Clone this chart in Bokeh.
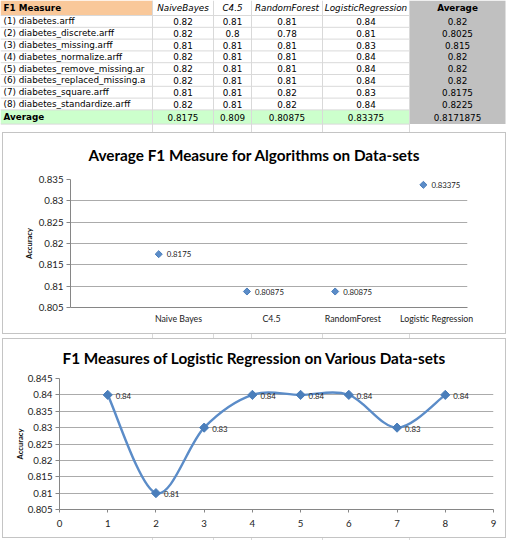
import math
from bokeh.plotting import figure
from bokeh.models import Range1d, FixedTicker
from bokeh.core.properties import value
from bokeh.embed import file_html
from bokeh.resources import INLINE

# ---------------- data ----------------
DATASETS = ["(1) diabetes.arff", "(2) diabetes_discrete.arff", "(3) diabetes_missing.arff",
            "(4) diabetes_normalize.arff", "(5) diabetes_remove_missing.ar",
            "(6) diabetes_replaced_missing.a", "(7) diabetes_square.arff",
            "(8) diabetes_standardize.arff"]
ALGO_HEADERS = ["NaiveBayes", "C4.5", "RandomForest", "LogisticRegression"]
NAIVE_BAYES = [0.82, 0.82, 0.81, 0.82, 0.82, 0.82, 0.81, 0.82]
C45 = [0.81, 0.8, 0.81, 0.81, 0.81, 0.81, 0.81, 0.81]
RANDOM_FOREST = [0.81, 0.78, 0.81, 0.81, 0.81, 0.81, 0.82, 0.82]
LOGISTIC_REGRESSION = [0.84, 0.81, 0.83, 0.84, 0.84, 0.84, 0.83, 0.84]
ROW_AVERAGE = [0.82, 0.8025, 0.815, 0.82, 0.82, 0.82, 0.8175, 0.8225]
COL_AVERAGE = [0.8175, 0.809, 0.80875, 0.83375]
GRAND_AVERAGE = 0.8171875

ALGORITHMS = ["Naive Bayes", "C4.5", "RandomForest", "Logistic Regression"]
AVG_F1 = [0.8175, 0.80875, 0.80875, 0.83375]
Y1_TICKS = [0.805, 0.81, 0.815, 0.82, 0.825, 0.83, 0.835]

DATASET_NO = [1, 2, 3, 4, 5, 6, 7, 8]
LR_F1 = [0.84, 0.81, 0.83, 0.84, 0.84, 0.84, 0.83, 0.84]
Y2_TICKS = [0.805, 0.81, 0.815, 0.82, 0.825, 0.83, 0.835, 0.84, 0.845]
X2_TICKS = [0, 1, 2, 3, 4, 5, 6, 7, 8, 9]

# ---------------- styles ----------------
W = 508
TFONT = "DejaVu Sans"
CFONT = "Lato"
TSIZE = "8.8px"
LINE_BLUE = "#5B8CC8"
MARK_BLUE = "#4A7EBB"
GRID = "#ABABAB"
AXIS = "#868686"
BOX = "#C4C4C4"
CELL_LINE = "#D9D9D9"


def fmt(v):
    return repr(v)


# ---------------- table ----------------
COL_EDGES = [0, 152, 213, 251, 322, 409, 505]
HEADER_H = 15
ROW_H = 11.8
TABLE_H = 130
n = len(DATASETS)
row_tops = [HEADER_H + i * ROW_H for i in range(n + 1)]
avg_top = row_tops[n]
avg_bot = avg_top + 14.2
row_centers = [t + ROW_H / 2 for t in row_tops[:n]]
avg_center = (avg_top + avg_bot) / 2

tbl = figure(width=W, height=TABLE_H, x_range=Range1d(0, W), y_range=Range1d(TABLE_H, 0),
             toolbar_location=None, output_backend="svg", min_border=0,
             x_axis_type=None, y_axis_type=None)
tbl.outline_line_color = None
tbl.background_fill_color = "white"

tbl.quad(left=[COL_EDGES[0]], right=[COL_EDGES[1]], top=[0], bottom=[HEADER_H],
         fill_color="#F9C89A", line_color=None)
tbl.quad(left=[COL_EDGES[0]], right=[COL_EDGES[5]], top=[avg_top], bottom=[avg_bot],
         fill_color="#CCFFCC", line_color=None)
tbl.quad(left=[COL_EDGES[5]], right=[COL_EDGES[6]], top=[0], bottom=[avg_bot],
         fill_color="#C0C0C0", line_color=None)

tbl.text(x=[3] * n, y=row_centers, text=DATASETS, text_font=value(TFONT),
         text_font_size=TSIZE, text_baseline="middle", text_align="left", text_color="black")
tbl.quad(left=[COL_EDGES[1]], right=[COL_EDGES[2]], top=[HEADER_H + 0.5], bottom=[avg_top],
         fill_color="white", line_color=None)

hy = [HEADER_H] + row_tops[1:] + [avg_bot]
tbl.segment(x0=[0] * len(hy), y0=hy, x1=[COL_EDGES[5]] * len(hy), y1=hy,
            line_color=CELL_LINE, line_width=1)
vx = COL_EDGES[1:6]
tbl.segment(x0=vx, y0=[0] * len(vx), x1=vx, y1=[TABLE_H] * len(vx),
            line_color=CELL_LINE, line_width=1)

tbl.text(x=[3], y=[HEADER_H / 2], text=["F1 Measure"], text_font=value(TFONT),
         text_font_size=TSIZE, text_font_style="bold", text_baseline="middle")
centers = [(COL_EDGES[i] + COL_EDGES[i + 1]) / 2 for i in range(1, 6)]
tbl.text(x=centers[:4], y=[HEADER_H / 2] * 4, text=ALGO_HEADERS, text_font=value(TFONT),
         text_font_size=TSIZE, text_font_style="italic", text_baseline="middle",
         text_align="center")
tbl.text(x=[centers[4]], y=[HEADER_H / 2], text=["Average"], text_font=value(TFONT),
         text_font_size=TSIZE, text_font_style="bold", text_baseline="middle",
         text_align="center")

cols = [NAIVE_BAYES, C45, RANDOM_FOREST, LOGISTIC_REGRESSION, ROW_AVERAGE]
xs, ys, ts = [], [], []
for ci, colvals in enumerate(cols):
    for ri, v in enumerate(colvals):
        xs.append(centers[ci]); ys.append(row_centers[ri]); ts.append(fmt(v))
for ci, v in enumerate(COL_AVERAGE + [GRAND_AVERAGE]):
    xs.append(centers[ci]); ys.append(avg_center); ts.append(fmt(v))
tbl.text(x=xs, y=ys, text=ts, text_font=value(TFONT), text_font_size=TSIZE,
         text_baseline="middle", text_align="center", text_color="black")
tbl.text(x=[3], y=[avg_center], text=["Average"], text_font=value(TFONT),
         text_font_size=TSIZE, text_font_style="bold", text_baseline="middle")


def chart_css(height):
    # chart frame box + the spreadsheet cell lines peeking out in the gaps
    layers = []
    for x in vx:
        layers.append(f"linear-gradient({CELL_LINE},{CELL_LINE}) {x}px 0px / 1px 3px no-repeat")
        layers.append(f"linear-gradient({CELL_LINE},{CELL_LINE}) {x}px {height - 3}px / 1px 3px no-repeat")
    return {"outline": "1px solid " + BOX, "outline-offset": "-3px",
            "background": ", ".join(layers) + ", white"}


def style_chart(p, yticks, label_standoff, height, title_standoff):
    for ax in p.axis:
        ax.axis_line_color = AXIS
        ax.major_tick_line_color = AXIS
        ax.minor_tick_line_color = None
        ax.major_label_text_font = CFONT
        ax.major_label_text_font_size = "9.7px"
        ax.major_label_text_color = "#222222"
    ya = p.yaxis[0]
    ya.ticker = FixedTicker(ticks=yticks)
    ya.major_label_overrides = {t: fmt(t) for t in yticks}
    ya.major_tick_out = 4
    ya.major_tick_in = 0
    ya.major_label_standoff = 3
    ya.axis_label = "Accuracy"
    ya.axis_label_text_font = CFONT
    ya.axis_label_text_font_style = "bold"
    ya.axis_label_text_font_size = "7.6px"
    ya.axis_label_text_color = "#111111"
    ya.axis_label_standoff = label_standoff
    p.ygrid.ticker = FixedTicker(ticks=yticks)
    p.ygrid.grid_line_color = GRID
    p.xgrid.visible = False
    p.outline_line_color = None
    p.background_fill_color = None
    p.border_fill_color = None
    p.title.text_font = CFONT
    p.title.text_font_size = "15.3px"
    p.title.text_font_style = "bold"
    p.title.text_color = "black"
    p.title.align = "left"
    p.title.vertical_align = "middle"
    p.title.standoff = title_standoff
    p.styles = chart_css(height)


# ---------------- chart 1 ----------------
H1 = 206
c1 = figure(width=W, height=H1, x_range=Range1d(0, 4.5), y_range=Range1d(0.805, 0.835),
            toolbar_location=None, output_backend="svg",
            min_border_left=70, min_border_right=41, min_border_top=47, min_border_bottom=29)
c1.title.text = "Average F1 Measure for Algorithms on Data-sets"
style_chart(c1, Y1_TICKS, 2, H1, 29)
c1.title.offset = 18
x1 = [i + 1 for i in range(len(ALGORITHMS))]
label_shift = [0.224, 0.279, 0.2, 0.15]
x1_ticks = [x + s for x, s in zip(x1, label_shift)]
xa = c1.xaxis[0]
xa.ticker = FixedTicker(ticks=x1_ticks)
xa.major_label_overrides = {t: a for t, a in zip(x1_ticks, ALGORITHMS)}
xa.major_tick_out = 0
xa.major_tick_in = 0
xa.major_label_standoff = 5
xa.major_label_text_font_size = "8.8px"
c1.scatter(x=x1, y=AVG_F1, marker="square", angle=math.pi / 4, size=5,
           fill_color=LINE_BLUE, line_color=MARK_BLUE)
c1.text(x=x1, y=AVG_F1, text=[fmt(v) for v in AVG_F1], x_offset=8, text_baseline="middle",
        text_font=value(CFONT), text_font_size="7.8px", text_color="#222222")

# ---------------- chart 2 ----------------
H2 = 204
c2 = figure(width=W, height=H2, x_range=Range1d(0, 9), y_range=Range1d(0.805, 0.845),
            toolbar_location=None, output_backend="svg",
            min_border_left=59, min_border_right=15, min_border_top=41, min_border_bottom=31)
c2.title.text = "F1 Measures of Logistic Regression on Various Data-sets"
style_chart(c2, Y2_TICKS, 0, H2, 22)
c2.title.offset = 3
xb = c2.xaxis[0]
xb.ticker = FixedTicker(ticks=X2_TICKS)
xb.major_tick_out = 3
xb.major_tick_in = 0
xb.major_label_standoff = 7

# smoothed line (Catmull-Rom bezier through the data points)
px = DATASET_NO
py = LR_F1
m = len(px)
x0s, y0s, x1s, y1s, cx0, cy0, cx1, cy1 = [], [], [], [], [], [], [], []
for i in range(m - 1):
    a = max(i - 1, 0); d = min(i + 2, m - 1)
    x0s.append(px[i]); y0s.append(py[i]); x1s.append(px[i + 1]); y1s.append(py[i + 1])
    cx0.append(px[i] + (px[i + 1] - px[a]) / 6); cy0.append(py[i] + (py[i + 1] - py[a]) / 6)
    cx1.append(px[i + 1] - (px[d] - px[i]) / 6); cy1.append(py[i + 1] - (py[d] - py[i]) / 6)
c2.bezier(x0=x0s, y0=y0s, x1=x1s, y1=y1s, cx0=cx0, cy0=cy0, cx1=cx1, cy1=cy1,
          line_color=LINE_BLUE, line_width=2.4)
c2.scatter(x=px, y=py, marker="square", angle=math.pi / 4, size=6.5,
           fill_color=MARK_BLUE, line_color=MARK_BLUE)
c2.text(x=px, y=py, text=[fmt(v) for v in py], x_offset=8, y_offset=1, text_baseline="middle",
        text_font=value(CFONT), text_font_size="7.8px", text_color="#222222")

open("out.html", "w").write(file_html([tbl, c1, c2], INLINE))
